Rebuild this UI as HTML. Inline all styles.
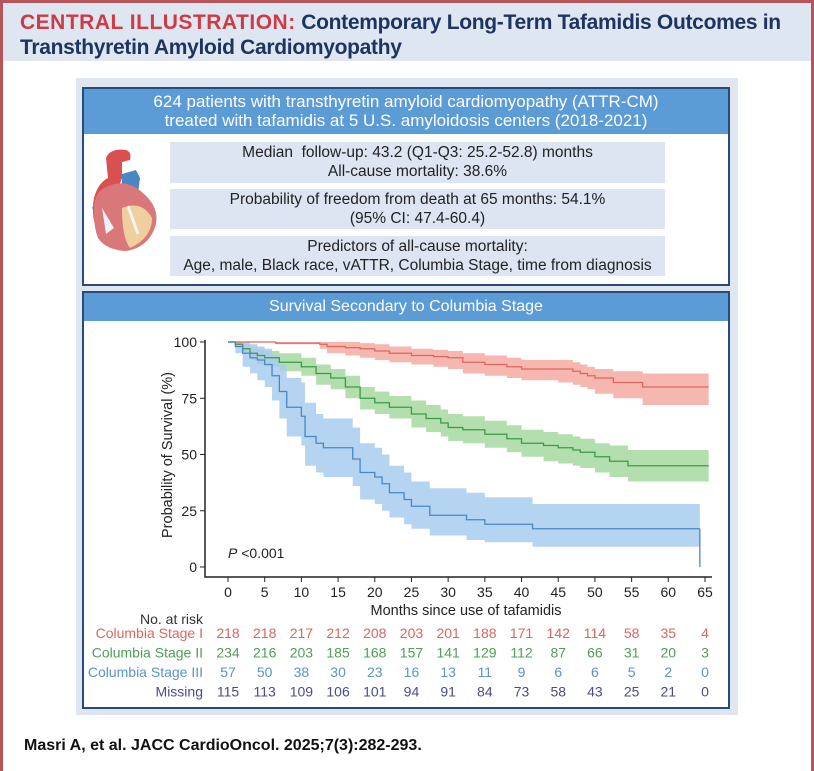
<!DOCTYPE html>
<html><head><meta charset="utf-8">
<style>
*{margin:0;padding:0;box-sizing:border-box}
body{width:814px;height:771px;overflow:hidden;background:#fff;font-family:"Liberation Sans Narrow","Liberation Sans",sans-serif;position:relative}
.abs{position:absolute}
#frame{left:0;top:0;width:814px;height:771px;border:3px solid #b5555a;border-bottom:none}
#titleband{left:3px;top:3px;width:808px;height:58px;background:#dde6f1}
#title{left:20px;top:10px;font-size:21px;font-weight:bold;color:#1d3461;line-height:25px;letter-spacing:-0.3px}
#title .red{color:#cf3a45;letter-spacing:0.5px}
#panel{left:76px;top:78px;width:662px;height:637px;background:#dfe6f0}
.box{background:#fff;border:2px solid #274b7a}
.hdr{background:#5b9bd6;color:#fff;text-align:center;font-size:17px}
.info{background:#dce5f1;text-align:center;font-size:15.5px;line-height:19px;color:#222}
</style></head><body>
<div class="abs" id="titleband"></div>
<div class="abs" id="frame"></div>
<div class="abs" id="title"><span class="red">CENTRAL ILLUSTRATION:</span> Contemporary Long-Term Tafamidis Outcomes in<br>Transthyretin Amyloid Cardiomyopathy</div>
<div class="abs" id="panel"></div>

<div class="abs box" style="left:82px;top:87px;width:648px;height:199px"></div>
<div class="abs hdr" style="left:84px;top:89px;width:644px;height:45px;line-height:19px;padding-top:3px">624 patients with transthyretin amyloid cardiomyopathy (ATTR-CM)<br>treated with tafamidis at 5 U.S. amyloidosis centers (2018-2021)</div>
<svg class="abs" style="left:86px;top:148px" width="80" height="104" viewBox="0 0 80 104">
<path d="M14 90 Q4 70 8 50 Q12 35 22 30 L20 10 Q24 0 40 2 Q46 4 44 12 L36 14 L36 30 Z" fill="#d8504f"/>
<path d="M36 26 L50 22 L54 30 L50 60 L36 50Z" fill="#4a87c0"/>
<path d="M6 60 L12 50 L16 70Z" fill="#4a87c0"/>
<path d="M8 66 Q6 44 22 38 Q42 30 58 46 Q76 62 68 82 Q60 100 40 103 Q20 102 12 90 Q8 80 8 66Z" fill="#d9777a"/>
<path d="M36 60 Q56 52 66 70 Q66 90 44 100 Q36 90 36 60Z" fill="#efcf9e"/>
<path d="M16 60 L28 80 L20 86Z" fill="#eef0f4"/>
<path d="M42 58 L52 86" stroke="#f3f3f3" stroke-width="3"/>
</svg>

<div class="abs info" style="left:170px;top:142px;width:495px;height:41px;padding-top:1px">Median&nbsp; follow-up: 43.2 (Q1-Q3: 25.2-52.8) months<br>All-cause mortality: 38.6%</div>
<div class="abs info" style="left:170px;top:189px;width:495px;height:40px;padding-top:1px">Probability of freedom from death at 65 months: 54.1%<br>(95% CI: 47.4-60.4)</div>
<div class="abs info" style="left:170px;top:236px;width:495px;height:40px;padding-top:1px">Predictors of all-cause mortality:<br>Age, male, Black race, vATTR, Columbia Stage, time from diagnosis</div>

<div class="abs box" style="left:82px;top:291px;width:648px;height:418px"></div>
<div class="abs hdr" style="left:84px;top:293px;width:644px;height:28px;line-height:28px;font-size:16px">Survival Secondary to Columbia Stage</div>

<svg class="abs" style="left:0;top:0" width="814" height="771" id="chart"></svg>

<div class="abs" style="left:24px;top:737px;font-size:16px;font-weight:bold;color:#111">Masri A, et al. JACC CardioOncol. 2025;7(3):282-293.</div>

<script>
// ---- data ----
const xTicks=[0,5,10,15,20,25,30,35,40,45,50,55,60,65];
const yTicks=[0,25,50,75,100];
const s1T=[0,6.5,12.5,13.5,16,18,20,22,25,28,30,32,35,38,40,45,47,48,49,50,52.5,56.5,65.5];
const s1S=[100,99.5,99,98,97.5,97,96,95,94,93.5,93,91,90,89,88,88,87,86,85,84,82,80,80];
const s1L=[100,99,97,95,94,93,92,91,90,89,88,86,85,84,83,82,81,80,79,77,75,72,72];
const s1U=[100,100,100,100,100,99.5,99,98,97,96.5,96,95,94,93,92,92,91,90,89,88,87,86,86];
const s2T=[0,1,2,3,4,5,7,10,12,14,16,18,20,22,25,27,29,30,32,35,38,40,43,45,47,48,50,52,54.5,65.5];
const s2S=[100,99,97,95,94,93,91,89,86,84,80,75,73,71,68,66,64,62,61,59,57,55,54,53,52,51,49,47,45,45];
const s2L=[100,98,95,92,90,89,87,85,81,79,75,70,68,66,62,60,58,56,55,53,51,49,47,46,45,44,42,40,38,38];
const s2U=[100,100,99,98,97,96,95,93,90,88,85,80,78,76,74,72,70,68,67,65,63,61,60,59,58,57,55,54,52,52];
const s3T=[0,1,2,3,4,5,6,7,8,10,10.5,12,13,16,17,18,20,21,22,24,25,27.5,32.5,35,41.5,64.3];
const s3S=[100,98,95,93,92,90,85,78,71,67,58,55,53,53,48,42,40,37,33,30,27,23,21,19,17,17];
const s3L=[100,95,89,86,83,80,74,66,58,54,45,42,40,40,36,30,28,25,22,19,17,14,12,11,9,9];
const s3U=[100,100,100,99,98,97,94,90,84,82,73,68,66,66,62,55,53,50,45,42,38,35,33,31,28,28];
const riskNames=['Columbia Stage I','Columbia Stage II','Columbia Stage III','Missing'];
const risk1=[218,218,217,212,208,203,201,188,171,142,114,58,35,4];
const risk2=[234,216,203,185,168,157,141,129,112,87,66,31,20,3];
const risk3=[57,50,38,30,23,16,13,11,9,6,6,5,2,0];
const riskM=[115,113,109,106,101,94,91,84,73,58,43,25,21,0];

const X=t=>228+t*(705-228)/65;
const Y=v=>567-v*(567-342)/100;
const svg=document.getElementById('chart');
const NS='http://www.w3.org/2000/svg';
function el(tag,attrs,parent){const e=document.createElementNS(NS,tag);for(const k in attrs)e.setAttribute(k,attrs[k]);(parent||svg).appendChild(e);return e;}
function stepPath(T,V){let d=`M${X(T[0])},${Y(V[0])}`;for(let i=1;i<T.length;i++){d+=`H${X(T[i])}V${Y(V[i])}`;}return d;}
function band(T,L,U){let d=`M${X(T[0])},${Y(U[0])}`;for(let i=1;i<T.length;i++)d+=`H${X(T[i])}V${Y(U[i])}`;
  d+=`V${Y(L[L.length-1])}`;for(let i=T.length-1;i>0;i--)d+=`H${X(T[i])}V${Y(L[i-1])}`;d+=`H${X(T[0])}Z`;return d;}
const series=[[s1T,s1S,s1L,s1U,'#f5aaa3','#e0665d','stage-1'],[s2T,s2S,s2L,s2U,'#a6d9a0','#3c9a45','stage-2'],[s3T,s3S,s3L,s3U,'#a8cdee','#4a86c6','stage-3']];
series.forEach(s=>{
  const b=el('path',{d:band(s[0],s[2],s[3]),fill:s[4],opacity:0.85});
  
  
});
series.forEach(s=>{
  const l=el('path',{d:stepPath(s[0],s[1]),fill:'none',stroke:s[5],'stroke-width':1.3});
  
  
});
const drop=el('path',{d:`M${X(s3T[s3T.length-1])},${Y(s3S[s3S.length-1])}V${Y(0)}`,stroke:'#4a86c6','stroke-width':1.3});


const ax=el('path',{d:`M205,340V577H712`,fill:'none',stroke:'#222','stroke-width':1.5});


yTicks.forEach(v=>{
  el('line',{x1:200,x2:205,y1:Y(v),y2:Y(v),stroke:'#222'});
  const t=el('text',{x:197,y:Y(v)+5,'text-anchor':'end','font-size':14,fill:'#222'});t.textContent=v;
  
  
});
xTicks.forEach(v=>{
  el('line',{x1:X(v),x2:X(v),y1:577,y2:582,stroke:'#222'});
  const t=el('text',{x:X(v),y:597,'text-anchor':'middle','font-size':14,fill:'#222'});t.textContent=v;
  
  
});
const yt=el('text',{x:0,y:0,transform:'translate(172,455) rotate(-90)','text-anchor':'middle','font-size':14.5,fill:'#222'});yt.textContent='Probability of Survival (%)';


const xt=el('text',{x:466,y:615,'text-anchor':'middle','font-size':14.5,fill:'#222'});xt.textContent='Months since use of tafamidis';


const pv=el('text',{x:228,y:558,'font-size':14,fill:'#222'});pv.innerHTML='<tspan font-style="italic">P</tspan> &lt;0.001';


const nr=el('text',{x:203,y:624,'text-anchor':'end','font-size':14,fill:'#333'});nr.textContent='No. at risk';


const riskRows=[risk1,risk2,risk3,riskM];
const riskColors=['#d9675e','#4f9e56','#5a94c8','#4b4a8a'];
riskRows.forEach((row,r)=>{
  const y=638+r*19.5;
  const lab=el('text',{x:203,y:y,'text-anchor':'end','font-size':14,fill:riskColors[r]});lab.textContent=riskNames[r];
  
  
  row.forEach((n,i)=>{
    const t=el('text',{x:X(xTicks[i]),y:y,'text-anchor':'middle','font-size':14,fill:riskColors[r]});t.textContent=n;
    
    
  });
});
svg.style.fontFamily='"Liberation Sans Narrow","Liberation Sans",sans-serif';
</script>
</body></html>
